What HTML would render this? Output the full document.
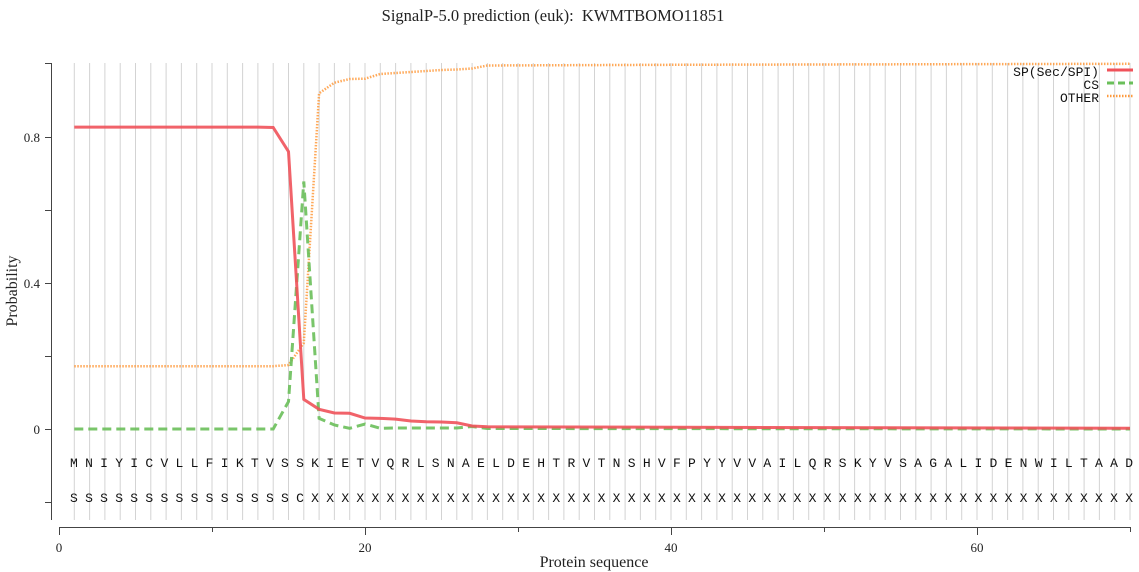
<!DOCTYPE html>
<html><head><meta charset="utf-8"><style>
html,body{margin:0;padding:0;background:#fff;}
svg{display:block;}
</style></head><body>
<svg width="1139" height="572" xmlns="http://www.w3.org/2000/svg">
<rect width="1139" height="572" fill="#fff"/>
<text x="553" y="21" font-family="Liberation Serif, serif" font-size="16.5" text-anchor="middle" fill="#222">SignalP-5.0 prediction (euk):&#160; KWMTBOMO11851</text>
<!-- axes -->
<g stroke="#444" stroke-width="1" fill="none">
<line x1="51.5" y1="63" x2="51.5" y2="520"/>
<line x1="45" y1="63.5" x2="51.5" y2="63.5"/>
<line x1="45" y1="137.5" x2="51.5" y2="137.5"/>
<line x1="45" y1="210.5" x2="51.5" y2="210.5"/>
<line x1="45" y1="283.5" x2="51.5" y2="283.5"/>
<line x1="45" y1="356.5" x2="51.5" y2="356.5"/>
<line x1="45" y1="429.5" x2="51.5" y2="429.5"/>
<line x1="45" y1="502.5" x2="51.5" y2="502.5"/>
<line x1="59" y1="527.5" x2="1131" y2="527.5"/>
<line x1="59.5" y1="527" x2="59.5" y2="535"/>
<line x1="212.5" y1="527" x2="212.5" y2="532"/>
<line x1="365.5" y1="527" x2="365.5" y2="535"/>
<line x1="518.5" y1="527" x2="518.5" y2="532"/>
<line x1="671.5" y1="527" x2="671.5" y2="535"/>
<line x1="824.5" y1="527" x2="824.5" y2="532"/>
<line x1="977.5" y1="527" x2="977.5" y2="535"/>
<line x1="1130.5" y1="527" x2="1130.5" y2="532"/>
</g>
<g font-family="Liberation Serif, serif" font-size="13" fill="#222" text-anchor="end">
<text x="40" y="142">0.8</text>
<text x="40" y="288">0.4</text>
<text x="40" y="434">0</text>
</g>
<g font-family="Liberation Serif, serif" font-size="13" fill="#222" text-anchor="middle">
<text x="59" y="552">0</text>
<text x="365" y="552">20</text>
<text x="671" y="552">40</text>
<text x="977" y="552">60</text>
<text x="594" y="567" font-size="16">Protein sequence</text>
<text transform="translate(17,291) rotate(-90)" font-size="16">Probability</text>
</g>
<!-- gridlines -->
<g stroke="#d3d3d3" stroke-width="1">
<line x1="74.3" y1="63" x2="74.3" y2="520"/><line x1="89.6" y1="63" x2="89.6" y2="520"/><line x1="104.9" y1="63" x2="104.9" y2="520"/><line x1="120.2" y1="63" x2="120.2" y2="520"/><line x1="135.5" y1="63" x2="135.5" y2="520"/><line x1="150.8" y1="63" x2="150.8" y2="520"/><line x1="166.1" y1="63" x2="166.1" y2="520"/><line x1="181.4" y1="63" x2="181.4" y2="520"/><line x1="196.7" y1="63" x2="196.7" y2="520"/><line x1="212" y1="63" x2="212" y2="520"/>
<line x1="227.3" y1="63" x2="227.3" y2="520"/><line x1="242.6" y1="63" x2="242.6" y2="520"/><line x1="257.9" y1="63" x2="257.9" y2="520"/><line x1="273.2" y1="63" x2="273.2" y2="520"/><line x1="288.5" y1="63" x2="288.5" y2="520"/><line x1="303.8" y1="63" x2="303.8" y2="520"/><line x1="319.1" y1="63" x2="319.1" y2="520"/><line x1="334.4" y1="63" x2="334.4" y2="520"/><line x1="349.7" y1="63" x2="349.7" y2="520"/><line x1="365" y1="63" x2="365" y2="520"/>
<line x1="380.3" y1="63" x2="380.3" y2="520"/><line x1="395.6" y1="63" x2="395.6" y2="520"/><line x1="410.9" y1="63" x2="410.9" y2="520"/><line x1="426.2" y1="63" x2="426.2" y2="520"/><line x1="441.5" y1="63" x2="441.5" y2="520"/><line x1="456.8" y1="63" x2="456.8" y2="520"/><line x1="472.1" y1="63" x2="472.1" y2="520"/><line x1="487.4" y1="63" x2="487.4" y2="520"/><line x1="502.7" y1="63" x2="502.7" y2="520"/><line x1="518" y1="63" x2="518" y2="520"/>
<line x1="533.3" y1="63" x2="533.3" y2="520"/><line x1="548.6" y1="63" x2="548.6" y2="520"/><line x1="563.9" y1="63" x2="563.9" y2="520"/><line x1="579.2" y1="63" x2="579.2" y2="520"/><line x1="594.5" y1="63" x2="594.5" y2="520"/><line x1="609.8" y1="63" x2="609.8" y2="520"/><line x1="625.1" y1="63" x2="625.1" y2="520"/><line x1="640.4" y1="63" x2="640.4" y2="520"/><line x1="655.7" y1="63" x2="655.7" y2="520"/><line x1="671" y1="63" x2="671" y2="520"/>
<line x1="686.3" y1="63" x2="686.3" y2="520"/><line x1="701.6" y1="63" x2="701.6" y2="520"/><line x1="716.9" y1="63" x2="716.9" y2="520"/><line x1="732.2" y1="63" x2="732.2" y2="520"/><line x1="747.5" y1="63" x2="747.5" y2="520"/><line x1="762.8" y1="63" x2="762.8" y2="520"/><line x1="778.1" y1="63" x2="778.1" y2="520"/><line x1="793.4" y1="63" x2="793.4" y2="520"/><line x1="808.7" y1="63" x2="808.7" y2="520"/><line x1="824" y1="63" x2="824" y2="520"/>
<line x1="839.3" y1="63" x2="839.3" y2="520"/><line x1="854.6" y1="63" x2="854.6" y2="520"/><line x1="869.9" y1="63" x2="869.9" y2="520"/><line x1="885.2" y1="63" x2="885.2" y2="520"/><line x1="900.5" y1="63" x2="900.5" y2="520"/><line x1="915.8" y1="63" x2="915.8" y2="520"/><line x1="931.1" y1="63" x2="931.1" y2="520"/><line x1="946.4" y1="63" x2="946.4" y2="520"/><line x1="961.7" y1="63" x2="961.7" y2="520"/><line x1="977" y1="63" x2="977" y2="520"/>
<line x1="992.3" y1="63" x2="992.3" y2="520"/><line x1="1007.6" y1="63" x2="1007.6" y2="520"/><line x1="1022.9" y1="63" x2="1022.9" y2="520"/><line x1="1038.2" y1="63" x2="1038.2" y2="520"/><line x1="1053.5" y1="63" x2="1053.5" y2="520"/><line x1="1068.8" y1="63" x2="1068.8" y2="520"/><line x1="1084.1" y1="63" x2="1084.1" y2="520"/><line x1="1099.4" y1="63" x2="1099.4" y2="520"/><line x1="1114.7" y1="63" x2="1114.7" y2="520"/><line x1="1130" y1="63" x2="1130" y2="520"/>
</g>
<!-- series -->
<polyline fill="none" stroke="#ff9a3c" stroke-width="2.5" stroke-dasharray="1.5,1.5" opacity="0.85"
points="74.3,366.2 273.2,366.2 288.5,365 303.8,343 319.1,93.3 334.4,82.7 349.7,79 365,78.7 380.3,74 395.6,73 410.9,72 426.2,71 441.5,70 456.8,69.5 472.1,68.5 487.4,65.5 671,64.8 1130,63.8"/>
<polyline fill="none" stroke="#6abf5a" stroke-width="3" stroke-dasharray="9,5" opacity="0.9"
points="74.3,429 273.2,429 288.5,401.6 303.8,181.5 319.1,418.4 334.4,425 349.7,428.3 365,424 380.3,428.3 395.6,428 456.8,428 472.1,426.5 487.4,428.5 1130,429"/>
<polyline fill="none" stroke="#f0525a" stroke-width="3" opacity="0.9"
points="74.3,127.1 257.9,127.1 273.2,127.5 288.5,151.6 303.8,399.4 319.1,409.3 334.4,413 349.7,413.3 365,418 380.3,418.4 395.6,419.1 410.9,421 426.2,421.7 441.5,422 456.8,422.8 472.1,426 487.4,426.8 1130,428.3"/>
<!-- residues -->
<g font-family="Liberation Mono, monospace" font-size="13" fill="#111">
<text x="70" y="467" textLength="1063" lengthAdjust="spacing">M N I Y I C V L L F I K T V S S K I E T V Q R L S N A E L D E H T R V T N S H V F P Y Y V V A I L Q R S K Y V S A G A L I D E N W I L T A A D</text>
<text x="70" y="502" textLength="1063" lengthAdjust="spacing">S S S S S S S S S S S S S S S C X X X X X X X X X X X X X X X X X X X X X X X X X X X X X X X X X X X X X X X X X X X X X X X X X X X X X X X</text>
</g>
<!-- legend -->
<g font-family="Liberation Mono, monospace" font-size="13" fill="#111" text-anchor="end">
<text x="1099" y="76">SP(Sec/SPI)</text>
<text x="1099" y="89">CS</text>
<text x="1099" y="102">OTHER</text>
</g>
<line x1="1107" y1="70" x2="1133" y2="70" stroke="#f0525a" stroke-width="3"/>
<line x1="1107" y1="83" x2="1133" y2="83" stroke="#6abf5a" stroke-width="3" stroke-dasharray="7,4"/>
<line x1="1107" y1="96" x2="1133" y2="96" stroke="#ff9a3c" stroke-width="2.5" stroke-dasharray="1.5,1.5"/>
</svg>
</body></html>
